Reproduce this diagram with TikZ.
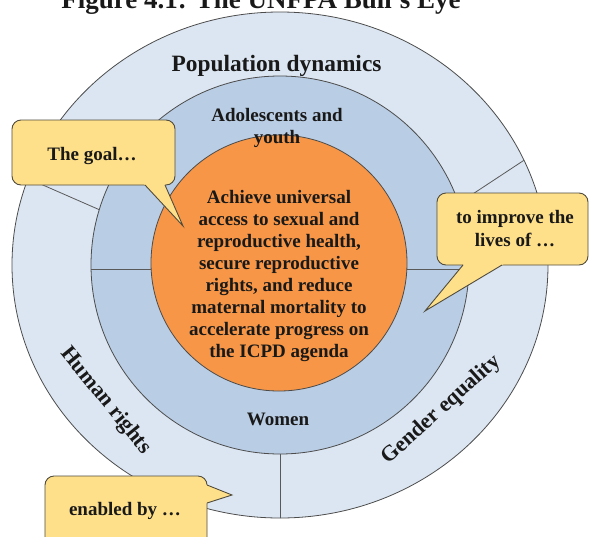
\documentclass[tikz,border=0pt]{standalone}
\usepackage{fontspec}
\setmainfont{Liberation Serif}
\definecolor{outerc}{RGB}{220,230,242}
\definecolor{midc}{RGB}{185,205,228}
\definecolor{orangec}{RGB}{247,150,70}
\definecolor{callfill}{RGB}{255,224,138}
\definecolor{callline}{RGB}{80,75,60}
\begin{document}
\begin{tikzpicture}[x=1pt,y=-1pt,
  ringline/.style={draw=black!70, line width=0.8pt},
  divider/.style={draw=black!65, line width=0.8pt},
  lab/.style={font=\bfseries\fontsize{19}{22}\selectfont, inner sep=0pt, align=center, text=black!90},
  callbox/.style={fill=callfill, draw=callline, line width=0.9pt, rounded corners=9pt},
  callptr/.style={draw=callline, line width=0.9pt},
]
\useasboundingbox (0,0) rectangle (589,536);
\begin{scope}
\clip (0,0) rectangle (589,536);
\node[lab, font=\bfseries\fontsize{27}{30}\selectfont, anchor=base] (title) at (261,8) {Figure 4.1: The UNFPA Bull’s Eye};
% rings
\path[fill=outerc, ringline] (280,265) ellipse [x radius=268, y radius=253];
\begin{scope}
\clip (280,265) ellipse [x radius=268, y radius=253];
\draw[divider] (116,217) -- (20,175);
\draw[divider] (450,209) -- (535,153);
\draw[divider] (280,440) -- (280,530);
\end{scope}
\path[fill=midc, ringline] (280,265) circle [radius=189];
\draw[divider] (91,269) -- (469,269);
\path[fill=orangec, ringline] (279,263) circle [radius=128];
% labels
\node[lab, font=\bfseries\fontsize{23.4}{27}\selectfont, anchor=base] (pop) at (276.5,71) {Population dynamics};
\node[lab] (ado) at (277,127.6) {Adolescents and\\youth};
\node[lab] (goaltext) at (279,275.6) {Achieve universal\\access to sexual and\\reproductive health,\\secure reproductive\\rights, and reduce\\maternal mortality to\\accelerate progress on\\the ICPD agenda};
\node[lab, anchor=base] (women) at (278,425) {Women};
\node[lab, font=\bfseries\fontsize{22}{26}\selectfont, rotate=-51] (hr) at (105.5,401) {Human rights};
\node[lab, font=\bfseries\fontsize{22}{26}\selectfont, rotate=42] (ge) at (441.5,410) {Gender equality};
% callout 1
\draw[callbox] (12,120) rectangle (175,185);
\fill[callfill] (142.2,182) -- (183,226) -- (163.7,182) -- cycle;
\draw[callptr] (145,185) -- (183,226) -- (165,185);
\node[lab, anchor=base] (goal) at (92,160) {The goal…};
% callout 2
\draw[callbox] (437,193) rectangle (588,265);
\fill[callfill] (465.5,262) -- (425,311) -- (507,262) -- cycle;
\draw[callptr] (463,265) -- (425,311) -- (502,265);
\node[lab, font=\bfseries\fontsize{19}{23}\selectfont] (improve) at (515,229) {to improve the\\lives of …};
% callout 3
\draw[callbox] (45,476) rectangle (207,552);
\fill[callfill] (204,483.8) -- (232,495) -- (204,504) -- cycle;
\draw[callptr] (207,485) -- (232,495) -- (207,503);
\node[lab, anchor=base] (enabled) at (125,515) {enabled by …};
\end{scope}
\end{tikzpicture}
\end{document}
